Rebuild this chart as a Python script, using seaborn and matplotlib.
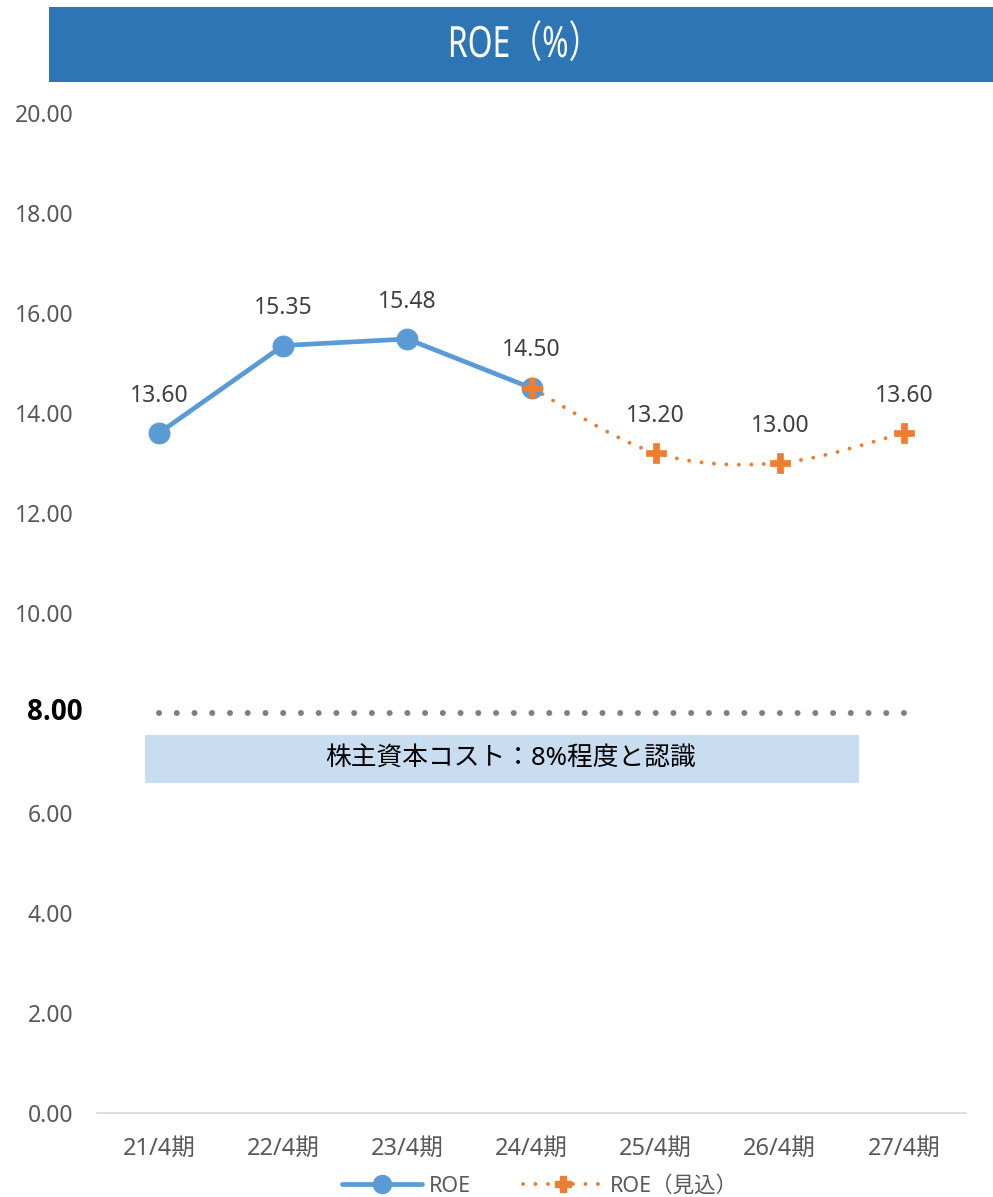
import numpy as np
import pandas as pd
import matplotlib
matplotlib.use("Agg")
import matplotlib.pyplot as plt
import seaborn as sns
from matplotlib.path import Path
from matplotlib.patches import PathPatch, Rectangle
from matplotlib.lines import Line2D
from matplotlib.patheffects import AbstractPathEffect
from matplotlib.transforms import Affine2D

# ---- data ----
periods = ["21/4期", "22/4期", "23/4期", "24/4期", "25/4期", "26/4期", "27/4期"]
roe_actual = [13.60, 15.35, 15.48, 14.50]            # 21/4 .. 24/4
roe_forecast = [14.50, 13.20, 13.00, 13.60]          # 24/4 .. 27/4
forecast_start = 3
cost_of_equity = 8.00
yticks = [0, 2, 4, 6, 8, 10, 12, 14, 16, 18, 20]
title = "ROE（%）"
note = "株主資本コスト：8%程度と認識"
legend_labels = ["ROE", "ROE（見込）"]

sns.set_theme(style="white")
plt.rcParams["font.family"] = ["Noto Sans", "Noto Sans CJK JP", "DejaVu Sans"]

BLUE = "#5B9BD5"
ORANGE = "#ED7D31"
GRAY_TXT = "#595959"
DOT = (0, (0.01, 2.96))


class Squeeze(AbstractPathEffect):
    """Narrow glyph outlines horizontally about a fixed x position (pixels)."""

    def __init__(self, sx, cx):
        super().__init__()
        self.sx = sx
        self.cx = cx

    def draw_path(self, renderer, gc, tpath, affine, rgbFace=None):
        squeeze = Affine2D().translate(-self.cx, 0).scale(self.sx, 1).translate(self.cx, 0)
        renderer.draw_path(gc, tpath, affine + squeeze, rgbFace)


W, H = 993, 1197
fig = plt.figure(figsize=(W / 100, H / 100), dpi=100)
ax = fig.add_axes([97 / W, 84 / H, 869 / W, 1000 / H])

x_act = np.arange(len(roe_actual))
x_fc = np.arange(forecast_start, forecast_start + len(roe_forecast))
df_act = pd.DataFrame({"x": x_act, "roe": roe_actual})
df_fc = pd.DataFrame({"x": x_fc, "roe": roe_forecast})

# reference line for cost of equity
ax.plot([0, len(periods) - 1], [cost_of_equity, cost_of_equity], color="#7F7F7F",
        lw=4.3, linestyle=DOT, dash_capstyle="round", zorder=2)

# note box
ax.add_patch(Rectangle((-0.11, 6.6), 5.75, 0.96, facecolor="#C9DDF1",
                       edgecolor="none", zorder=1))
ax.text(2.83, 7.08, note, ha="center", va="center", fontsize=18.5, color="#000000", zorder=3)

# smoothed dotted forecast curve (cubic Bezier segments through the points)
P = np.column_stack([x_fc, roe_forecast]).astype(float)
verts = [P[0]]
codes = [Path.MOVETO]
n = len(P)
for i in range(n - 1):
    p0 = P[i - 1] if i > 0 else P[i]
    p1, p2 = P[i], P[i + 1]
    p3 = P[i + 2] if i + 2 < n else P[i + 1]
    c1 = p1 + (p2 - p0) / 6.0
    c2 = p2 - (p3 - p1) / 6.0
    verts += [c1, c2, p2]
    codes += [Path.CURVE4] * 3
ax.add_patch(PathPatch(Path(verts, codes), facecolor="none", edgecolor=ORANGE, lw=2.8,
                       linestyle=(0, (0.01, 3.2)), capstyle="round", zorder=3))

# actual series
sns.lineplot(data=df_act, x="x", y="roe", ax=ax, color=BLUE, lw=3.4, marker="o",
             markersize=15, markeredgecolor=BLUE, zorder=4, legend=False)
# forecast markers
sns.scatterplot(data=df_fc, x="x", y="roe", ax=ax, color=ORANGE, marker="P", s=200,
                edgecolor=ORANGE, linewidth=0.5, zorder=5, legend=False)

# value labels
labels_x = list(x_act) + list(x_fc[1:])
labels_y = roe_actual + roe_forecast[1:]
for xv, yv in zip(labels_x, labels_y):
    ax.annotate(f"{yv:.2f}", (xv, yv), xytext=(0, 27), textcoords="offset points",
                ha="center", va="center", fontsize=16.5, color="#404040")

ax.set_xlim(-0.5, len(periods) - 0.5)
ax.set_ylim(0, 20)
ax.set_xticks(range(len(periods)))
ax.set_xticklabels(periods, fontsize=17, color=GRAY_TXT)
ax.set_yticks(yticks)
ax.set_yticklabels(["" if v == cost_of_equity else f"{v:.2f}" for v in yticks],
                   fontsize=16.5, color=GRAY_TXT)
ax.annotate(f"{cost_of_equity:.2f}", xy=(0, cost_of_equity),
            xycoords=("axes fraction", "data"), xytext=(-10.5, 0),
            textcoords="offset points", ha="right", va="center",
            fontsize=20, fontweight="bold", color="#000000",
            family=["Open Sans", "Liberation Sans", "DejaVu Sans"])
ax.tick_params(axis="y", length=0, pad=17)
ax.tick_params(axis="x", length=0, pad=17)
ax.set_xlabel("")
ax.set_ylabel("")
for s in ["top", "right", "left"]:
    ax.spines[s].set_visible(False)
ax.spines["bottom"].set_color("#D9D9D9")
ax.spines["bottom"].set_linewidth(1.2)
ax.grid(False)

# title banner
fig.patches.append(Rectangle((49 / W, 1 - 82 / H), 1 - 49 / W, 75 / H,
                             transform=fig.transFigure, facecolor="#2E75B6",
                             edgecolor="none", zorder=0))
title_cx = 524
fig.text(title_cx / W, 1 - 46 / H, title, ha="center", va="center",
         fontsize=31, color="white", path_effects=[Squeeze(0.74, title_cx)])

# legend
handles = [
    Line2D([], [], color=BLUE, lw=3.4, marker="o", markersize=13),
    Line2D([], [], color=ORANGE, lw=2.8, linestyle=(0, (0.01, 3.2)),
           dash_capstyle="round", marker="P", markersize=12),
]
fig.legend(handles, legend_labels, loc="center", bbox_to_anchor=(540 / W, 11 / H),
           ncol=2, frameon=False, fontsize=15.5, labelcolor=GRAY_TXT,
           handlelength=3.7, columnspacing=2.4, handletextpad=0.35,
           borderpad=0, borderaxespad=0)

fig.savefig("out.png", dpi=100)
